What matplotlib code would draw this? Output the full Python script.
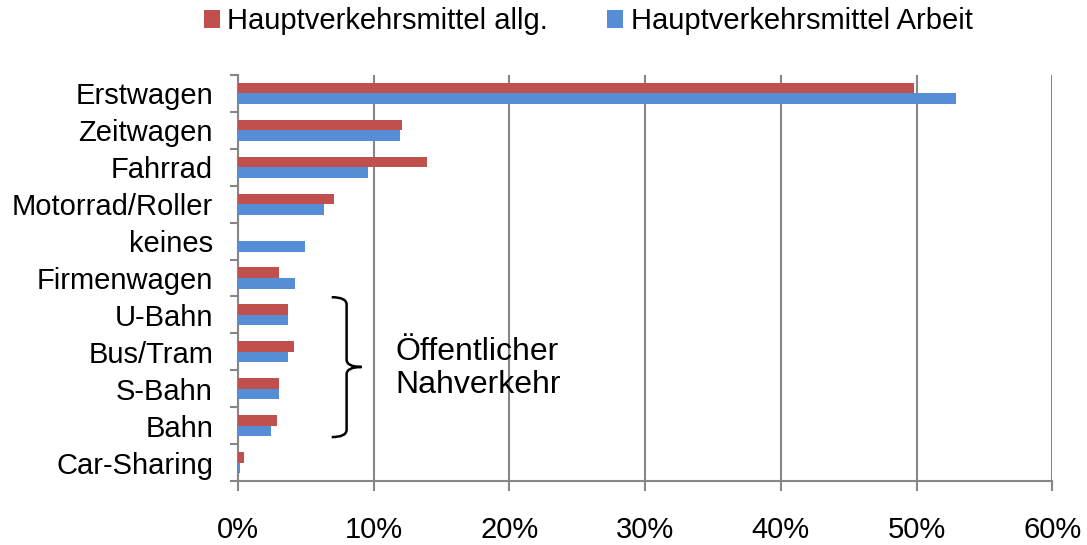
import numpy as np
import matplotlib.pyplot as plt
from matplotlib.path import Path
from matplotlib.patches import PathPatch

plt.rcParams["font.family"] = ["Liberation Sans", "DejaVu Sans"]

categories = ["Erstwagen", "Zeitwagen", "Fahrrad", "Motorrad/Roller", "keines",
              "Firmenwagen", "U-Bahn", "Bus/Tram", "S-Bahn", "Bahn", "Car-Sharing"]
allg = [49.8, 12.05, 13.95, 7.05, 0.0, 3.0, 3.7, 4.1, 3.0, 2.9, 0.45]
arbeit = [52.9, 11.9, 9.6, 6.35, 4.9, 4.2, 3.7, 3.7, 3.0, 2.45, 0.15]
series_names = ["Hauptverkehrsmittel allg.", "Hauptverkehrsmittel Arbeit"]
xticks = [0, 10, 20, 30, 40, 50, 60]

RED = "#C0504D"
BLUE = "#558ED5"
GRID = "#868686"
FS = 21

fig = plt.figure(figsize=(10.87, 5.45), dpi=100)
ax = fig.add_axes([0.219, 0.1174, 0.749, 0.745])

y = np.arange(len(categories))
h = 0.285
ax.barh(y - h / 2, allg, height=h, color=RED, label=series_names[0], zorder=3)
ax.barh(y + h / 2, arbeit, height=h, color=BLUE, label=series_names[1], zorder=3)

ax.set_xlim(0, 60)
ax.set_ylim(len(categories) - 0.5, -0.5)

ax.set_xticks(xticks)
ax.set_xticklabels([f"{t}%" for t in xticks], fontsize=FS)
ax.set_yticks(y)
ax.set_yticklabels(categories, fontsize=FS)
ax.set_yticks(np.arange(-0.5, len(categories)), minor=True)
ax.tick_params(axis="y", which="major", length=0, pad=18)
ax.tick_params(axis="y", which="minor", length=6, width=1.5, color=GRID)
ax.tick_params(axis="x", length=7, width=1.5, color=GRID, pad=18)

ax.grid(axis="x", color=GRID, linewidth=1.5, zorder=0)
for s in ["top", "right"]:
    ax.spines[s].set_visible(False)
for s in ["left", "bottom"]:
    ax.spines[s].set_color(GRID)
    ax.spines[s].set_linewidth(1.5)

# geschweifte Klammer
x0, x1, x2 = 6.9, 8.0, 9.1
yt, ym, yb = 5.52, 7.41, 9.31
verts = [(x0, yt), (x1, yt), (x1, yt + 0.2),
         (x1, ym - 0.2),
         (x1, ym), (x2, ym),
         (x1, ym), (x1, ym + 0.2),
         (x1, yb - 0.2),
         (x1, yb), (x0, yb)]
codes = [Path.MOVETO, Path.CURVE3, Path.CURVE3,
         Path.LINETO,
         Path.CURVE3, Path.CURVE3,
         Path.CURVE3, Path.CURVE3,
         Path.LINETO,
         Path.CURVE3, Path.CURVE3]
ax.add_patch(PathPatch(Path(verts, codes), fill=False, lw=1.8, color="black",
                       zorder=4, clip_on=False))
ax.text(11.6, 7.45, "Öffentlicher\nNahverkehr", fontsize=23, ha="left",
        va="center", linespacing=1.12, zorder=4)

fig.legend(loc="upper center", bbox_to_anchor=(0.541, 1.035), ncol=2, frameon=False,
           fontsize=FS, handlelength=0.55, handleheight=0.55, handletextpad=0.25,
           columnspacing=2.05)

fig.savefig("out.png", dpi=100)
